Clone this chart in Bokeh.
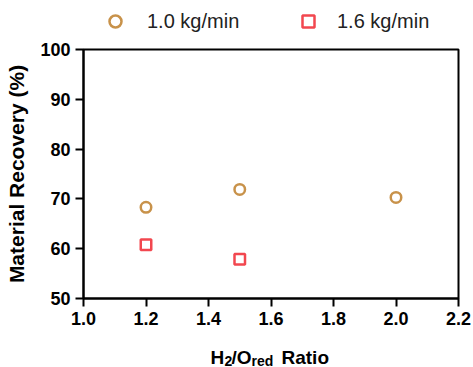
from bokeh.plotting import figure
from bokeh.layouts import column
from bokeh.models import (Range1d, FixedTicker, Legend, LegendItem, Label,
                          ColumnDataSource, NumeralTickFormatter)
from bokeh.embed import file_html
from bokeh.resources import INLINE

# Data
ratio_10 = [1.2, 1.5, 2.0]
recovery_10 = [68.3, 71.9, 70.3]
ratio_16 = [1.2, 1.5]
recovery_16 = [60.8, 57.9]
x_ticks = [1.0, 1.2, 1.4, 1.6, 1.8, 2.0, 2.2]
y_ticks = [50, 60, 70, 80, 90, 100]
series_labels = ["1.0 kg/min", "1.6 kg/min"]

FONT = "Liberation Sans"
C1 = "#C8924A"
C2 = "#F2474F"
W = 473
TOP_H = 40
BOT_H = 34
MAIN_H = 367 - TOP_H - BOT_H

def marker_kw(color):
    return dict(size=10.5, fill_color=None, line_color=color, line_width=2.5)

# ---- main plot ----
p = figure(width=W, height=MAIN_H, output_backend="svg", toolbar_location=None,
           x_range=Range1d(1.0, 2.2), y_range=Range1d(50, 100),
           min_border_left=83, min_border_right=15, min_border_top=9,
           min_border_bottom=35)
p.grid.visible = False
p.outline_line_color = "black"
p.outline_line_width = 2

for ax in (p.xaxis[0], p.yaxis[0]):
    ax.axis_line_width = 2
    ax.axis_line_color = "black"
    ax.major_tick_line_width = 2
    ax.major_tick_out = 8
    ax.major_tick_in = 0
    ax.minor_tick_out = 0
    ax.minor_tick_in = 0
    ax.major_label_text_font = FONT
    ax.major_label_text_font_style = "bold"
    ax.major_label_text_font_size = "18px"
    ax.major_label_text_color = "black"
    ax.major_label_standoff = 5

p.xaxis.ticker = FixedTicker(ticks=x_ticks)
p.xaxis.formatter = NumeralTickFormatter(format="0.0")
p.yaxis.ticker = FixedTicker(ticks=y_ticks)

p.yaxis.axis_label = "Material Recovery (%)"
p.yaxis.axis_label_text_font = FONT
p.yaxis.axis_label_text_font_style = "bold"
p.yaxis.axis_label_text_font_size = "21px"
p.yaxis.axis_label_text_color = "black"
p.yaxis.axis_label_standoff = 9

s1 = ColumnDataSource(dict(x=ratio_10, y=recovery_10))
s2 = ColumnDataSource(dict(x=ratio_16, y=recovery_16))
p.scatter("x", "y", source=s1, marker="circle", **marker_kw(C1))
p.scatter("x", "y", source=s2, marker="square", **marker_kw(C2))

# ---- legend strip (frame aligned with the main frame by the column) ----
lg = figure(width=W, height=TOP_H, output_backend="svg", toolbar_location=None,
            x_range=Range1d(0, 1), y_range=Range1d(0, 1),
            x_axis_location=None, y_axis_location=None,
            min_border_left=0, min_border_right=0, min_border_top=0,
            min_border_bottom=0)
lg.grid.visible = False
lg.outline_line_color = None
l1 = lg.scatter("x", "y", source=s1, marker="circle", **marker_kw(C1))
l2 = lg.scatter("x", "y", source=s2, marker="square", **marker_kw(C2))

legend_style = dict(orientation="horizontal", border_line_color=None,
                    background_fill_alpha=0, padding=0, margin=0,
                    glyph_width=30, glyph_height=30, label_height=30,
                    label_text_font=FONT, label_text_font_size="20px",
                    label_text_color="#222222")
lg.add_layout(Legend(items=[LegendItem(label=series_labels[0], renderers=[l1])],
                     location=(17, 4), label_standoff=17, **legend_style),
              "center")
lg.add_layout(Legend(items=[LegendItem(label=series_labels[1], renderers=[l2])],
                     location=(210, 4), label_standoff=14, **legend_style),
              "center")

# ---- x axis title strip (H2/Ored Ratio) ----
xt = figure(width=W, height=BOT_H, output_backend="svg", toolbar_location=None,
            x_range=Range1d(0, 1), y_range=Range1d(0, 1),
            x_axis_location=None, y_axis_location=None,
            min_border_left=0, min_border_right=0, min_border_top=0,
            min_border_bottom=0)
xt.grid.visible = False
xt.outline_line_color = None
parts = [("H", 127, 10, "19px"), ("2", 141, 7, "14px"),
         ("/O", 148, 10, "19px"), ("red", 168, 7, "14px"),
         ("Ratio", 198, 10, "19px")]
for txt, sx, dy, fs in parts:
    xt.add_layout(Label(x=sx, y=dy, x_units="screen", y_units="screen",
                        text=txt,
                        text_font=FONT, text_font_style="bold",
                        text_font_size=fs, text_color="black",
                        text_align="left", text_baseline="alphabetic"))

layout = column(lg, p, xt, spacing=0)
open("out.html", "w").write(file_html(layout, INLINE))
